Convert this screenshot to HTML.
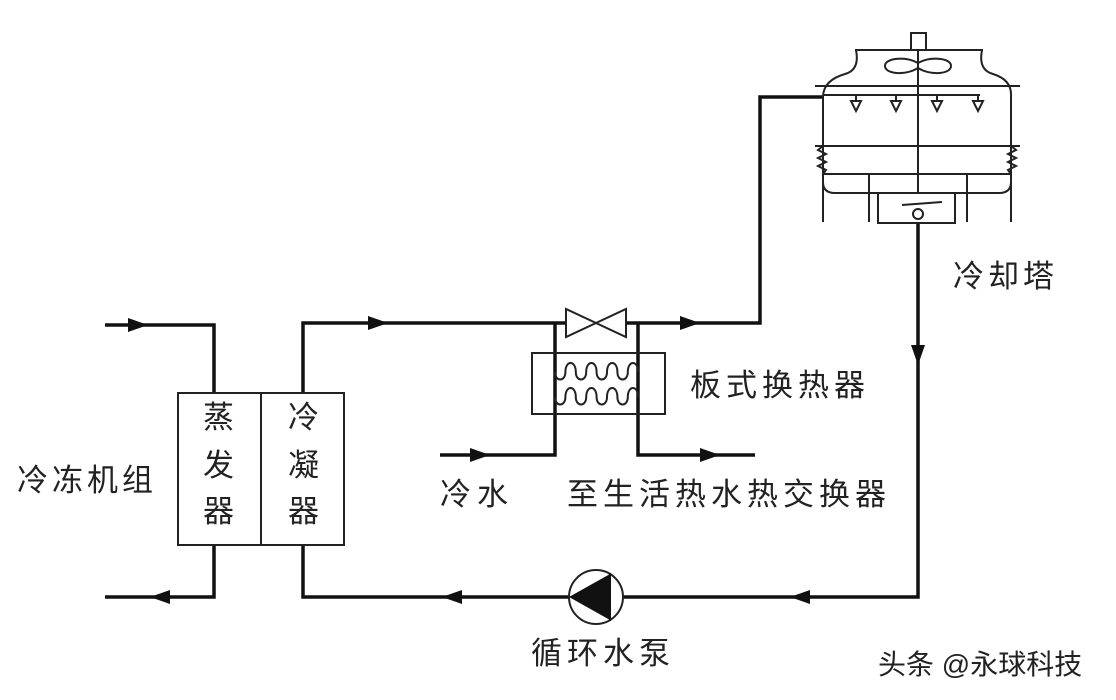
<!DOCTYPE html>
<html><head><meta charset="utf-8"><style>
html,body{margin:0;padding:0;background:#fff;}
svg{display:block;}
text{font-family:"Liberation Sans","Noto Sans CJK SC",sans-serif;fill:#222;}
</style></head><body>
<svg width="1116" height="700" viewBox="0 0 1116 700" xmlns="http://www.w3.org/2000/svg">
<g fill="none" stroke="#111" stroke-width="3.5" stroke-linejoin="miter">
<polyline points="105,325 214,325 214,393"/>
<polyline points="105,597 214,597 214,545"/>
<polyline points="303,393 303,323 565,323"/>
<polyline points="625,323 760,323 760,97 822,97"/>
<polyline points="303,545 303,597 569,597"/>
<polyline points="623,597 918,597 918,222"/>
<polyline points="555,323 555,455 440,455"/>
<polyline points="638,323 638,455 755,455"/>
</g>
<g fill="#111">
<polygon points="128,318 148,325 128,332"/>
<polygon points="170,590 150,597 170,604"/>
<polygon points="368,316 388,323 368,330"/>
<polygon points="680,316 700,323 680,330"/>
<polygon points="470,448 490,455 470,462"/>
<polygon points="700,448 720,455 700,462"/>
<polygon points="911,345 918,365 925,345"/>
<polygon points="810,590 790,597 810,604"/>
<polygon points="462,590 442,597 462,604"/>
</g>
<g fill="none" stroke="#222" stroke-width="2">
<rect x="178" y="393" width="166" height="152"/>
<line x1="261" y1="393" x2="261" y2="545"/>
<polygon points="566,309 566,337 596,323"/>
<polygon points="626,309 626,337 596,323"/>
<rect x="532" y="353" width="133" height="61"/>
<path d="M555,372 c0,10 10.4,10 10.4,0 c0,-12 10.4,-12 10.4,0 c0,10 10.4,10 10.4,0 c0,-12 10.4,-12 10.4,0 c0,10 10.4,10 10.4,0 c0,-12 10.4,-12 10.4,0 c0,10 10.4,10 10.4,0 c0,-12 10.4,-12 10.4,0"/>
<path d="M555,397 c0,10 10.4,10 10.4,0 c0,-12 10.4,-12 10.4,0 c0,10 10.4,10 10.4,0 c0,-12 10.4,-12 10.4,0 c0,10 10.4,10 10.4,0 c0,-12 10.4,-12 10.4,0 c0,10 10.4,10 10.4,0 c0,-12 10.4,-12 10.4,0"/>
<circle cx="596" cy="597" r="27"/>
</g>
<polygon points="569,597 610,574 610,620" fill="#111"/>
<line x1="610" y1="573" x2="610" y2="621" stroke="#111" stroke-width="2"/>
<g fill="none" stroke="#222" stroke-width="2">
<rect x="911" y="33" width="15" height="17"/>
<line x1="855" y1="50" x2="983" y2="50"/>
<path d="M856,50 Q860,70 845,74 Q824,80 823,96 L823,222"/>
<path d="M982,50 Q978,70 993,74 Q1012,80 1011,96 L1011,222"/>
<line x1="815" y1="86" x2="1020" y2="86"/>
<line x1="823" y1="95" x2="980" y2="95"/>
<line x1="918" y1="50" x2="918" y2="193"/>
<path d="M918,63 C905,56 885,58 885,66 C885,74 905,76 918,68 C931,76 951,74 951,66 C951,58 931,56 918,63Z"/>
<line x1="815" y1="146" x2="1020" y2="146"/>
<path d="M823,146 l-5,4 l8,4 l-8,4 l8,4 l-8,4 l8,4 l-3,4"/>
<path d="M1011,146 l5,4 l-8,4 l8,4 l-8,4 l8,4 l-8,4 l3,4"/>
<line x1="823" y1="174" x2="1011" y2="174"/>
<path d="M823,174 L823,182 Q823,193 835,193 L999,193 Q1011,193 1011,182"/>
<line x1="869" y1="174" x2="869" y2="222"/>
<line x1="967" y1="174" x2="967" y2="222"/>
<rect x="878" y="193" width="77" height="30"/>
<line x1="902" y1="205" x2="942" y2="202"/>
<circle cx="918" cy="214" r="5"/>
</g>
<g fill="#fff" stroke="#222" stroke-width="2">
<path d="M856,95 v6 M896,95 v6 M937,95 v6 M978,95 v6"/>
<polygon points="851,101 861,101 856,111"/>
<polygon points="891,101 901,101 896,111"/>
<polygon points="932,101 942,101 937,111"/>
<polygon points="973,101 983,101 978,111"/>
</g>
<g font-size="31">
<text x="953" y="287" letter-spacing="4">冷却塔</text>
<text x="690" y="396" letter-spacing="5">板式换热器</text>
<text x="440" y="505" letter-spacing="6">冷水</text>
<text x="567" y="505" letter-spacing="5">至生活热水热交换器</text>
<text x="17" y="491" letter-spacing="4">冷冻机组</text>
<text x="531" y="664" letter-spacing="5">循环水泵</text>
<text x="203" y="428">蒸</text><text x="203" y="476">发</text><text x="203" y="522">器</text>
<text x="288" y="428">冷</text><text x="288" y="476">凝</text><text x="288" y="522">器</text>
</g>
<text x="878" y="674" font-size="28">头条 @永球科技</text>
</svg>
</body></html>
